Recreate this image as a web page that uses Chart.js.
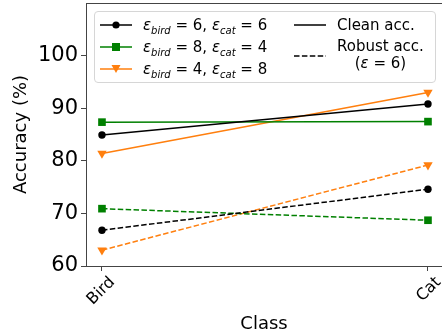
<!DOCTYPE html>
<html>
<head>
<meta charset="utf-8">
<script src="https://cdn.jsdelivr.net/npm/chart.js@4.4.1/dist/chart.umd.min.js"></script>
<style>
  html, body { margin: 0; padding: 0; background: #fff; overflow: hidden; }
  #wrap { position: relative; width: 442px; height: 335px; }
  #legend {
    position: absolute; left: 94px; top: 11px; width: 340px; height: 70px;
    border: 1px solid #d6d6d6; border-radius: 4px; background: rgba(255,255,255,0.85);
    font-family: "DejaVu Sans", sans-serif; font-size: 15px; color: #000;
  }
  .row { position: absolute; left: 0; height: 20px; line-height: 20px; white-space: nowrap; }
  .row svg { position: absolute; left: 5px; top: 0; }
  .row span { position: absolute; left: 48px; top: 0; }
  .row i { font-style: italic; }
  .row sub { font-size: 10px; vertical-align: -4px; line-height: 0; }
  .right { position: absolute; white-space: nowrap; }
</style>
</head>
<body>
<div id="wrap">
  <canvas id="chart" width="442" height="335"></canvas>
  <div id="legend">
    <div class="row" style="top:3px">
      <svg width="34" height="20"><line x1="0" y1="10" x2="32" y2="10" stroke="#000" stroke-width="1.5"/><circle cx="16" cy="10" r="3.6" fill="#000"/></svg>
      <span><i>ε</i><sub><i>bird</i></sub> = 6, <i>ε</i><sub><i>cat</i></sub> = 6</span>
    </div>
    <div class="row" style="top:25px">
      <svg width="34" height="20"><line x1="0" y1="10" x2="32" y2="10" stroke="#008000" stroke-width="1.5"/><rect x="12" y="6" width="8" height="8" fill="#008000"/></svg>
      <span><i>ε</i><sub><i>bird</i></sub> = 8, <i>ε</i><sub><i>cat</i></sub> = 4</span>
    </div>
    <div class="row" style="top:47px">
      <svg width="34" height="20"><line x1="0" y1="10" x2="32" y2="10" stroke="#ff7f0e" stroke-width="1.5"/><polygon points="11.5,6 20.5,6 16,14" fill="#ff7f0e"/></svg>
      <span><i>ε</i><sub><i>bird</i></sub> = 4, <i>ε</i><sub><i>cat</i></sub> = 8</span>
    </div>
    <svg class="right" style="left:199px;top:2px" width="34" height="60">
      <line x1="0" y1="11" x2="32" y2="11" stroke="#000" stroke-width="1.5"/>
      <line x1="0" y1="42" x2="32" y2="42" stroke="#000" stroke-width="1.5" stroke-dasharray="5.5,2.4"/>
    </svg>
    <div class="right" style="left:242px;top:3px;line-height:20px">Clean acc.</div>
    <div class="right" style="left:242px;top:26px;line-height:17px;text-align:center">Robust acc.<br>(<i>ε</i> = 6)</div>
  </div>
</div>
<script>
// data
const categories = ["Bird", "Cat"];
const cleanEq = [84.9, 90.8];      // eps_bird=6, eps_cat=6
const cleanBird8 = [87.35, 87.45]; // eps_bird=8, eps_cat=4
const cleanBird4 = [81.4, 93.0];   // eps_bird=4, eps_cat=8
const robustEq = [66.8, 74.6];
const robustBird8 = [70.9, 68.7];
const robustBird4 = [63.0, 79.2];
const yTicks = [60, 70, 80, 90, 100];

const BLACK = "#000000", GREEN = "#008000", ORANGE = "#ff7f0e";

function pts(vals) {
    return vals.map((v, i) => ({ x: i, y: v }));
}

function series(vals, color, style, dashed) {
    return {
        data: pts(vals),
        borderColor: color,
        backgroundColor: color,
        borderWidth: 1.5,
        pointStyle: style,
        pointRadius: style === "circle" ? 3.7 : 5.4,
        pointBorderWidth: 0,
        pointRotation: style === "triangle" ? 180 : 0,
        borderDash: dashed ? [5.5, 2.4] : [],
        tension: 0
    };
}

// matplotlib keeps the top spine
const topSpine = {
    id: "topSpine",
    afterDraw(chart) {
        const a = chart.chartArea, ctx = chart.ctx;
        ctx.save();
        ctx.strokeStyle = "#444";
        ctx.lineWidth = 1;
        ctx.beginPath();
        ctx.moveTo(a.left, a.top + 0.5);
        ctx.lineTo(a.right, a.top + 0.5);
        ctx.stroke();
        ctx.restore();
    }
};

new Chart(document.getElementById("chart"), {
    type: "line",
    data: {
        datasets: [
            series(cleanEq, BLACK, "circle", false),
            series(cleanBird8, GREEN, "rect", false),
            series(cleanBird4, ORANGE, "triangle", false),
            series(robustEq, BLACK, "circle", true),
            series(robustBird8, GREEN, "rect", true),
            series(robustBird4, ORANGE, "triangle", true)
        ]
    },
    options: {
        responsive: false,
        animation: false,
        layout: { autoPadding: false, padding: { top: 3, left: 0, right: 0, bottom: 0 } },
        plugins: { legend: { display: false }, tooltip: { enabled: false } },
        scales: {
            x: {
                type: "linear",
                min: -0.049,
                max: 1.043,
                afterBuildTicks: (axis) => { axis.ticks = categories.map((c, i) => ({ value: i })); },
                afterFit: (axis) => {
                    axis.height = 69;
                    axis.paddingLeft = 0;
                    axis.paddingRight = 0;
                },
                ticks: {
                    callback: (v) => categories[v],
                    minRotation: 45,
                    maxRotation: 45,
                    labelOffset: 10.5,
                    padding: 2,
                    color: "#000",
                    font: { family: "DejaVu Sans", size: 16 }
                },
                grid: { drawOnChartArea: false, drawTicks: true, tickLength: 5, color: "#444" },
                border: { color: "#444", width: 1 },
                title: {
                    display: true, text: "Class", color: "#000",
                    font: { family: "DejaVu Sans", size: 18 },
                    padding: { top: 0, bottom: 0 }
                }
            },
            y: {
                min: 60,
                max: 110,
                afterBuildTicks: (axis) => { axis.ticks = yTicks.map(v => ({ value: v })); },
                afterFit: (axis) => {
                    axis.width = 86;
                    axis.paddingTop = 0;
                    axis.paddingBottom = 0;
                },
                ticks: {
                    padding: 3,
                    color: "#000",
                    font: { family: "DejaVu Sans", size: 21 }
                },
                grid: { drawOnChartArea: false, drawTicks: true, tickLength: 5, color: "#444" },
                border: { color: "#444", width: 1 },
                title: {
                    display: true, text: "Accuracy (%)", color: "#000",
                    font: { family: "DejaVu Sans", size: 18 },
                    padding: { top: 11, bottom: 0 }
                }
            }
        }
    },
    plugins: [topSpine]
});
</script>
</body>
</html>
